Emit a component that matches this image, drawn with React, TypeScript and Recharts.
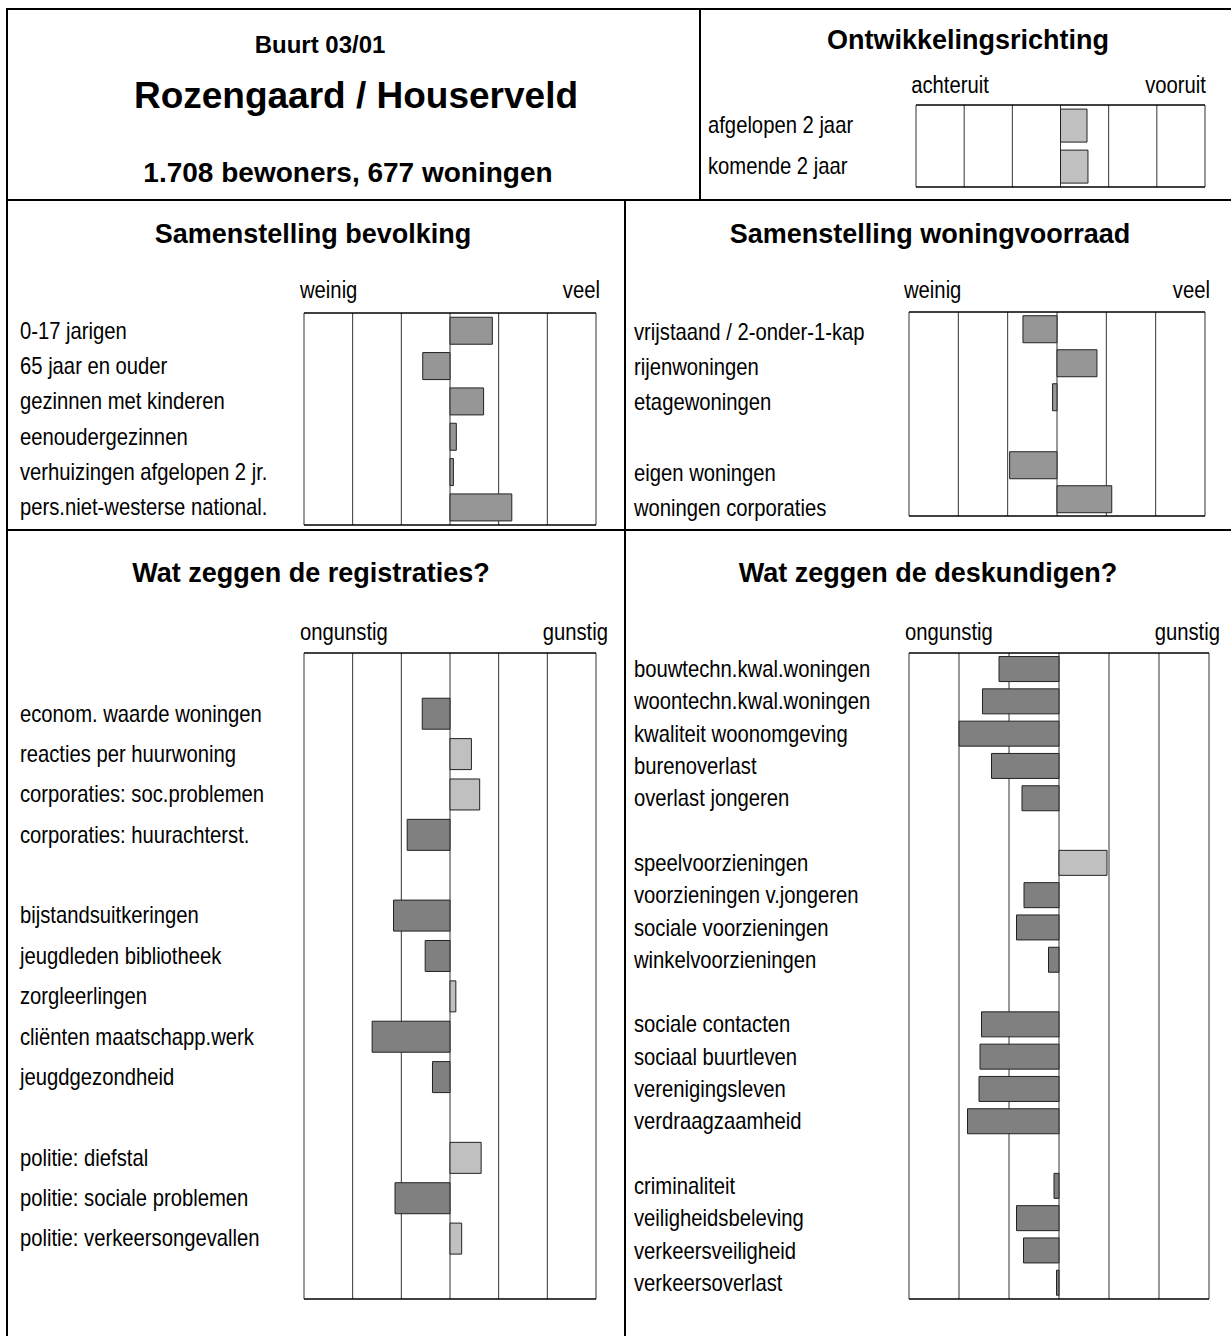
// Buurtprofiel Rozengaard / Houserveld — five small diverging bar charts
// on a fixed page grid. Scale runs from -3 to +3 (six columns).

import { BarChart, Bar, XAxis, YAxis, CartesianGrid, Cell } from 'recharts'

const FONT = '"Liberation Sans", Arial, Helvetica, sans-serif'

const gridTicks = [-3, -2, -1, 0, 1, 2, 3]

// Ontwikkelingsrichting
const trendLabels = ['afgelopen 2 jaar', 'komende 2 jaar']
const trendValues = [0.55, 0.57]

// Samenstelling bevolking
const popLabels = [
  '0-17 jarigen',
  '65 jaar en ouder',
  'gezinnen met kinderen',
  'eenoudergezinnen',
  'verhuizingen afgelopen 2 jr.',
  'pers.niet-westerse national.',
]
const popValues = [0.87, -0.56, 0.69, 0.13, 0.07, 1.27]

// Samenstelling woningvoorraad
const houseLabels = [
  'vrijstaand / 2-onder-1-kap',
  'rijenwoningen',
  'etagewoningen',
  '',
  'eigen woningen',
  'woningen corporaties',
]
const houseValues = [-0.69, 0.81, -0.09, null, -0.96, 1.11]

// Wat zeggen de registraties?
const regLabels = [
  '',
  'econom. waarde woningen',
  'reacties per huurwoning',
  'corporaties: soc.problemen',
  'corporaties: huurachterst.',
  '',
  'bijstandsuitkeringen',
  'jeugdleden bibliotheek',
  'zorgleerlingen',
  'cliënten maatschapp.werk',
  'jeugdgezondheid',
  '',
  'politie: diefstal',
  'politie: sociale problemen',
  'politie: verkeersongevallen',
  '',
]
const regValues = [
  null, -0.57, 0.44, 0.61, -0.88, null, -1.16, -0.51, 0.12, -1.6, -0.36, null,
  0.64, -1.13, 0.24, null,
]

// Wat zeggen de deskundigen?
const expLabels = [
  'bouwtechn.kwal.woningen',
  'woontechn.kwal.woningen',
  'kwaliteit woonomgeving',
  'burenoverlast',
  'overlast jongeren',
  '',
  'speelvoorzieningen',
  'voorzieningen v.jongeren',
  'sociale voorzieningen',
  'winkelvoorzieningen',
  '',
  'sociale contacten',
  'sociaal buurtleven',
  'verenigingsleven',
  'verdraagzaamheid',
  '',
  'criminaliteit',
  'veiligheidsbeleving',
  'verkeersveiligheid',
  'verkeersoverlast',
]
const expValues = [
  -1.2, -1.53, -2.0, -1.35, -0.74, null, 0.96, -0.7, -0.85, -0.21, null,
  -1.55, -1.58, -1.6, -1.83, null, -0.1, -0.85, -0.71, -0.05,
]

const LIGHT = '#c0c0c0'
const DARK = '#808080'
const MID = '#969696'

const signColor = (v: number | null) => (v != null && v > 0 ? LIGHT : DARK)

// label text squeezed a bit horizontally, like the scanned original
const SQUEEZE = 0.88

function Txt({
  x,
  y,
  anchor = 'start',
  size = 23,
  bold = false,
  squeeze = SQUEEZE,
  children,
}: {
  x: number
  y: number
  anchor?: 'start' | 'middle' | 'end'
  size?: number
  bold?: boolean
  squeeze?: number
  children: React.ReactNode
}) {
  const tx = anchor === 'start' ? '0%' : anchor === 'middle' ? '-50%' : '-100%'
  const origin = anchor === 'start' ? 'left' : anchor === 'middle' ? 'center' : 'right'
  return (
    <div
      style={{
        position: 'absolute',
        left: x,
        top: y,
        whiteSpace: 'nowrap',
        fontSize: size,
        lineHeight: 1,
        fontWeight: bold ? 700 : 400,
        transform: `translate(${tx}, -50%) scaleX(${squeeze})`,
        transformOrigin: `${origin} center`,
      }}
    >
      {children}
    </div>
  )
}

function LabelTick(props: any) {
  const { y, payload } = props
  return (
    <text
      x={0}
      y={0}
      transform={`translate(2,${y}) scale(${SQUEEZE},1)`}
      textAnchor="start"
      dominantBaseline="central"
      fontFamily={FONT}
      fontSize={23}
      fill="#000"
    >
      {payload.value}
    </text>
  )
}

const NoTick = () => <g />

interface PanelProps {
  labels: string[]
  values: (number | null)[]
  labelX: number
  plotX: number
  plotY: number
  plotW: number
  plotH: number
  gap: string
  colorOf: (v: number | null) => string
  // labels sit on their own row spacing in the original (woningvoorraad)
  labelY?: number
  labelH?: number
}

function Panel({
  labels,
  values,
  labelX,
  plotX,
  plotY,
  plotW,
  plotH,
  gap,
  colorOf,
  labelY,
  labelH,
}: PanelProps) {
  const data = labels.map((name, i) => ({ name, value: values[i] }))
  const left = labelX - 2
  const width = plotX + plotW + 2 - left
  const height = plotH + 4
  const ownLabels = labelY != null && labelH != null
  return (
    <>
      <div style={{ position: 'absolute', left, top: plotY - 2 }}>
        <BarChart
          layout="vertical"
          width={width}
          height={height}
          data={data}
          margin={{ top: 1, right: 2, bottom: 1, left: 0 }}
          barCategoryGap={gap}
        >
          <CartesianGrid horizontal={false} stroke="#333" strokeWidth={1} />
          <XAxis
            type="number"
            domain={[-3, 3]}
            ticks={gridTicks}
            height={1}
            tick={NoTick}
            tickLine={false}
            axisLine={{ stroke: '#000', strokeWidth: 1.5 }}
          />
          <XAxis
            xAxisId="top"
            orientation="top"
            type="number"
            domain={[-3, 3]}
            ticks={gridTicks}
            height={1}
            tick={NoTick}
            tickLine={false}
            axisLine={{ stroke: '#000', strokeWidth: 1.5 }}
          />
          <YAxis
            type="category"
            dataKey="name"
            width={plotX - left}
            axisLine={false}
            tickLine={false}
            interval={0}
            tick={ownLabels ? NoTick : (p: any) => <LabelTick {...p} />}
          />
          <Bar dataKey="value" isAnimationActive={false} stroke="#222" strokeWidth={1}>
            {data.map((d, i) => (
              <Cell key={i} fill={colorOf(d.value)} />
            ))}
          </Bar>
        </BarChart>
      </div>
      {ownLabels && (
        <div style={{ position: 'absolute', left, top: labelY! - 2 }}>
          <BarChart
            layout="vertical"
            width={plotX - left}
            height={labelH! + 4}
            data={data}
            margin={{ top: 2, right: 0, bottom: 2, left: 0 }}
          >
            <XAxis type="number" domain={[-3, 3]} hide />
            <YAxis
              type="category"
              dataKey="name"
              width={plotX - left}
              axisLine={false}
              tickLine={false}
              interval={0}
              tick={(p: any) => <LabelTick {...p} />}
            />
            <Bar dataKey="none" isAnimationActive={false} />
          </BarChart>
        </div>
      )}
    </>
  )
}

const line = (left: number, top: number, width: number, height: number) => (
  <div style={{ position: 'absolute', left, top, width, height, background: '#000' }} />
)

export default function App() {
  return (
    <div
      style={{
        position: 'absolute',
        left: 0,
        top: 0,
        width: 1231,
        height: 1336,
        overflow: 'hidden',
        background: '#fff',
        fontFamily: FONT,
        color: '#000',
      }}
    >
      {/* frame */}
      {line(6, 8, 1231, 2)}
      {line(6, 8, 2, 1330)}
      {line(6, 199, 1231, 2)}
      {line(6, 529, 1231, 2)}
      {line(699, 8, 2, 192)}
      {line(624, 200, 2, 1136)}

      {/* header */}
      <Txt x={320} y={45} anchor="middle" size={24} bold squeeze={1}>
        Buurt 03/01
      </Txt>
      <Txt x={356} y={95} anchor="middle" size={37} bold squeeze={1}>
        Rozengaard / Houserveld
      </Txt>
      <Txt x={348} y={173} anchor="middle" size={28} bold squeeze={1}>
        1.708 bewoners, 677 woningen
      </Txt>

      <Txt x={968} y={40} anchor="middle" size={27} bold squeeze={1}>
        Ontwikkelingsrichting
      </Txt>
      <Txt x={950} y={85} anchor="middle">
        achteruit
      </Txt>
      <Txt x={1206} y={85} anchor="end">
        vooruit
      </Txt>
      <Panel
        labels={trendLabels}
        values={trendValues}
        labelX={708}
        plotX={916}
        plotY={105}
        plotW={289}
        plotH={82}
        gap="10%"
        colorOf={() => LIGHT}
      />

      {/* row 2 */}
      <Txt x={313} y={234} anchor="middle" size={27} bold squeeze={1}>
        Samenstelling bevolking
      </Txt>
      <Txt x={300} y={290}>weinig</Txt>
      <Txt x={600} y={290} anchor="end">
        veel
      </Txt>
      <Panel
        labels={popLabels}
        values={popValues}
        labelX={20}
        plotX={304}
        plotY={313}
        plotW={292}
        plotH={212}
        gap="12%"
        colorOf={() => MID}
      />

      <Txt x={930} y={234} anchor="middle" size={27} bold squeeze={1}>
        Samenstelling woningvoorraad
      </Txt>
      <Txt x={904} y={290}>weinig</Txt>
      <Txt x={1210} y={290} anchor="end">
        veel
      </Txt>
      <Panel
        labels={houseLabels}
        values={houseValues}
        labelX={634}
        plotX={909}
        plotY={312}
        plotW={296}
        plotH={204}
        gap="11%"
        colorOf={() => MID}
        labelY={314}
        labelH={212}
      />

      {/* row 3 */}
      <Txt x={311} y={573} anchor="middle" size={27} bold squeeze={1}>
        Wat zeggen de registraties?
      </Txt>
      <Txt x={300} y={632}>ongunstig</Txt>
      <Txt x={608} y={632} anchor="end">
        gunstig
      </Txt>
      <Panel
        labels={regLabels}
        values={regValues}
        labelX={20}
        plotX={304}
        plotY={653}
        plotW={292}
        plotH={646}
        gap="12%"
        colorOf={signColor}
      />

      <Txt x={928} y={573} anchor="middle" size={27} bold squeeze={1}>
        Wat zeggen de deskundigen?
      </Txt>
      <Txt x={905} y={632}>ongunstig</Txt>
      <Txt x={1220} y={632} anchor="end">
        gunstig
      </Txt>
      <Panel
        labels={expLabels}
        values={expValues}
        labelX={634}
        plotX={909}
        plotY={653}
        plotW={300}
        plotH={646}
        gap="11%"
        colorOf={signColor}
      />
    </div>
  )
}
